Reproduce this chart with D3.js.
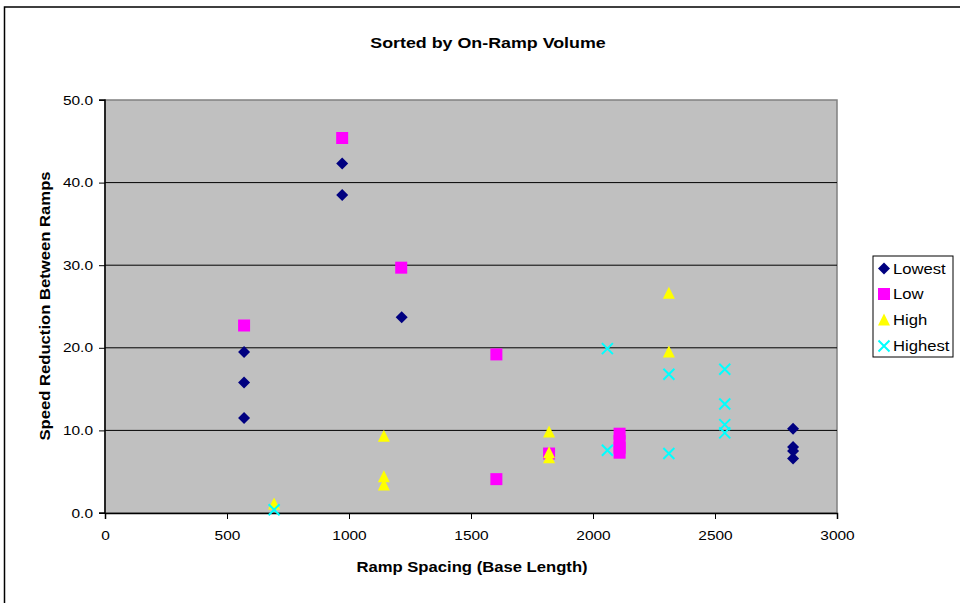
<!DOCTYPE html>
<html>
<head>
<meta charset="utf-8">
<script src="https://cdn.jsdelivr.net/npm/d3@7"></script>
<style>
  html, body { margin: 0; padding: 0; background: #fff; }
  svg { display: block; font-family: "Liberation Sans", Arial, sans-serif; }
</style>
</head>
<body>
<svg id="chart" width="960" height="603"></svg>
<script>
// Speed reduction vs. ramp spacing, grouped by on-ramp volume
const seriesNames = ["Lowest", "Low", "High", "Highest"];
const seriesColors = ["#000080", "#FF00FF", "#FFFF00", "#00FFFF"];
const seriesShapes = ["diamond", "square", "triangle", "cross"];

const lowestX = [570, 570, 570, 972, 972, 1216, 2820, 2820, 2820, 2820];
const lowestY = [19.5, 15.8, 11.5, 42.3, 38.5, 23.7, 10.2, 8.0, 7.5, 6.6];

const lowX = [570, 972, 1214, 1604, 1604, 1820, 2109, 2109, 2109, 2109];
const lowY = [22.7, 45.4, 29.7, 19.2, 4.1, 7.2, 9.6, 8.7, 7.9, 7.3];

const highX = [693, 1143, 1143, 1143, 1820, 1820, 1820, 2311, 2311];
const highY = [1.1, 9.3, 4.4, 3.4, 9.8, 7.3, 6.7, 26.6, 19.5];

const highestX = [693, 2059, 2059, 2311, 2311, 2540, 2540, 2540, 2540];
const highestY = [0.4, 19.9, 7.6, 16.8, 7.2, 17.4, 13.2, 10.7, 9.7];

const xTicks = [0, 500, 1000, 1500, 2000, 2500, 3000];
const yTicks = [0, 10, 20, 30, 40, 50];

const seriesX = [lowestX, lowX, highX, highestX];
const seriesY = [lowestY, lowY, highY, highestY];

// text in this chart is drawn slightly wide
const STRETCH = 1.19;

const svg = d3.select("#chart");
const plot = { left: 105, top: 100, right: 837, bottom: 513 };

const x = d3.scaleLinear().domain([0, 3000]).range([plot.left, plot.right]);
const y = d3.scaleLinear().domain([0, 50]).range([plot.bottom, plot.top]);

// place a text element at (px, py), widened horizontally
function wideText(parent, px, py, str, size, bold, anchor) {
  return parent.append("text")
    .attr("transform", `translate(${px},${py}) scale(${STRETCH},1)`)
    .attr("text-anchor", anchor || "start")
    .style("font-size", size + "px")
    .style("font-weight", bold ? "bold" : "normal")
    .text(str);
}

// outer chart frame
svg.append("rect")
  .attr("x", 4.5).attr("y", 7).attr("width", 1000).attr("height", 700)
  .attr("fill", "none").attr("stroke", "#000").attr("stroke-width", 1.5);

// plot background
svg.append("rect")
  .attr("x", plot.left).attr("y", plot.top)
  .attr("width", plot.right - plot.left).attr("height", plot.bottom - plot.top)
  .attr("fill", "#C0C0C0").attr("stroke", "#808080").attr("stroke-width", 1.5);

// horizontal gridlines
svg.append("g").selectAll("line")
  .data(yTicks.filter(d => d > 0 && d < 50))
  .join("line")
  .attr("x1", plot.left).attr("x2", plot.right)
  .attr("y1", d => y(d)).attr("y2", d => y(d))
  .attr("stroke", "#000").attr("stroke-width", 1);

// axes
const yAxis = d3.axisLeft(y).tickValues(yTicks).tickFormat(d3.format(".1f")).tickSize(6).tickPadding(6);
const xAxis = d3.axisBottom(x).tickValues(xTicks).tickFormat(d3.format("d")).tickSize(6).tickPadding(12);

const gy = svg.append("g").attr("transform", `translate(${plot.left},0)`).call(yAxis);
const gx = svg.append("g").attr("transform", `translate(0,${plot.bottom})`).call(xAxis);
[gx, gy].forEach(g => {
  g.select(".domain").attr("stroke", "#000").attr("stroke-width", 1.5);
  g.selectAll(".tick line").attr("stroke", "#000");
  g.selectAll(".tick text").attr("fill", "#000")
    .style("font-size", "13px").style("font-family", "'Liberation Sans', Arial, sans-serif")
    .each(function () {
      const t = d3.select(this);
      const tx = +t.attr("x") || 0;
      t.attr("x", tx / STRETCH).attr("transform", `scale(${STRETCH},1)`);
    });
});
gy.select(".domain").attr("d", `M-6,${plot.top}H0V${plot.bottom}H-6`);

// marker shapes
function markerPath(shape) {
  switch (shape) {
    case "diamond": return "M0,-6L6,0L0,6L-6,0Z";
    case "square": return "M-6,-6H6V6H-6Z";
    case "triangle": return "M0,-6.5L6,5.5H-6Z";
    default: return "M-5.5,-5.5L5.5,5.5M5.5,-5.5L-5.5,5.5";
  }
}
function drawMarker(sel, i) {
  const shape = seriesShapes[i];
  if (shape === "cross") {
    sel.attr("d", markerPath(shape)).attr("fill", "none")
      .attr("stroke", seriesColors[i]).attr("stroke-width", 2);
  } else {
    sel.attr("d", markerPath(shape)).attr("fill", seriesColors[i]).attr("stroke", "none");
  }
}

seriesNames.forEach((name, i) => {
  const pts = seriesX[i].map((v, k) => ({ x: v, y: seriesY[i][k] }));
  svg.append("g").selectAll("path")
    .data(pts)
    .join("path")
    .attr("transform", d => `translate(${x(d.x)},${y(d.y)})`)
    .call(s => drawMarker(s, i));
});

// title
wideText(svg, 488, 48, "Sorted by On-Ramp Volume", 15, true, "middle");

// axis titles
wideText(svg, 472, 572, "Ramp Spacing (Base Length)", 14, true, "middle");

svg.append("text")
  .attr("transform", `translate(50,306) rotate(-90) scale(${STRETCH},1)`)
  .attr("text-anchor", "middle")
  .style("font-size", "14px").style("font-weight", "bold")
  .text("Speed Reduction Between Ramps");

// legend
const legend = svg.append("g");
legend.append("rect")
  .attr("x", 873).attr("y", 256).attr("width", 80).attr("height", 101)
  .attr("fill", "#fff").attr("stroke", "#000").attr("stroke-width", 1);
const legendY = [268.5, 294, 320, 346];
seriesNames.forEach((name, i) => {
  legend.append("path")
    .attr("transform", `translate(884,${legendY[i]})`)
    .call(s => drawMarker(s, i));
  wideText(legend, 893, legendY[i] + 5, name, 14, false, "start");
});
</script>
</body>
</html>
